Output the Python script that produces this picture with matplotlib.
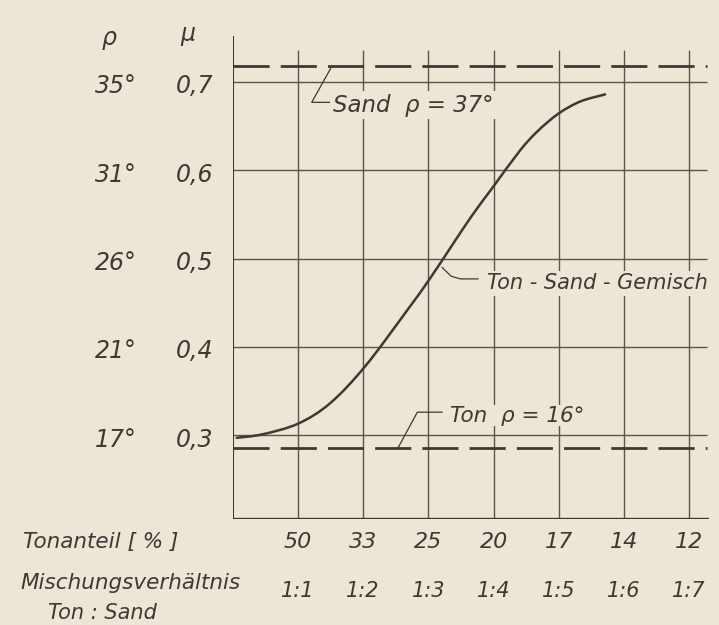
import matplotlib.pyplot as plt
from matplotlib import font_manager
from matplotlib.path import Path
from matplotlib.patches import PathPatch

# Schrift: schmale Kursivschrift, falls vorhanden
names = {f.name for f in font_manager.fontManager.ttflist}
if 'Liberation Sans Narrow' in names:
    fam = ['Liberation Sans Narrow', 'DejaVu Sans']
else:
    fam = ['DejaVu Sans']
plt.rcParams['font.family'] = fam
plt.rcParams['font.style'] = 'italic'

bg = '#ece6d6'
ink = '#3d3934'
grid_ink = '#5a564f'

# Achsen: Reibungswinkel rho und Reibungsbeiwert mu
mu_ticks = [0.7, 0.6, 0.5, 0.4, 0.3]
rho_labels = ['35°', '31°', '26°', '21°', '17°']
mu_labels = ['0,7', '0,6', '0,5', '0,4', '0,3']

# x-Achse: Tonanteil und Mischungsverhaeltnis
x_pos = [1, 2, 3, 4, 5, 6, 7]
ton_anteil = ['50', '33', '25', '20', '17', '14', '12']
mischung = ['1:1', '1:2', '1:3', '1:4', '1:5', '1:6', '1:7']

# Ton-Sand-Gemisch
curve_x = [0.06, 0.46, 1.0, 1.49, 2.03, 2.67, 3.02, 3.38, 3.68,
           3.99, 4.40, 4.67, 4.99, 5.33, 5.71]
curve_mu = [0.297, 0.301, 0.313, 0.336, 0.378, 0.441, 0.477, 0.517,
            0.550, 0.581, 0.622, 0.644, 0.664, 0.678, 0.686]

# Grenzwerte Sand (rho = 37) und Ton (rho = 16)
sand_mu = 0.718
ton_mu = 0.285

x_max = 7.28


def smooth_path(xs, ys):
    # Catmull-Rom als kubische Bezier-Segmente
    pts = list(zip(xs, ys))
    pts = [pts[0]] + pts + [pts[-1]]
    verts = [pts[1]]
    codes = [Path.MOVETO]
    for i in range(1, len(pts) - 2):
        p0, p1, p2, p3 = pts[i - 1], pts[i], pts[i + 1], pts[i + 2]
        c1 = (p1[0] + (p2[0] - p0[0]) / 6, p1[1] + (p2[1] - p0[1]) / 6)
        c2 = (p2[0] - (p3[0] - p1[0]) / 6, p2[1] - (p3[1] - p1[1]) / 6)
        verts += [c1, c2, p2]
        codes += [Path.CURVE4] * 3
    return Path(verts, codes)


fig = plt.figure(figsize=(7.19, 6.25), dpi=100, facecolor=bg)
ax = fig.add_axes([0.3238, 0.1696, 0.662, 0.7768])
ax.set_facecolor(bg)
ax.set_xlim(0, 7.3)
ax.set_ylim(0.205, 0.755)
for s in ax.spines.values():
    s.set_visible(False)
ax.set_xticks([])
ax.set_yticks([])

# Gitter
ax.hlines(mu_ticks, 0, x_max, color=grid_ink, lw=1.0, zorder=1)
ax.vlines(x_pos, 0.205, 0.736, color=grid_ink, lw=1.0, zorder=1)
# Achslinien
ax.vlines([0], 0.205, 0.752, color=ink, lw=1.5, zorder=2)
ax.hlines([0.205], 0, x_max + 0.02, color=ink, lw=1.7, zorder=2)

# gestrichelte Grenzlinien
ax.hlines([sand_mu, ton_mu], 0, x_max, color=ink, lw=2.0,
          linestyles=[(0, (13, 4))], zorder=2)

# Kurve
ax.add_patch(PathPatch(smooth_path(curve_x, curve_mu), facecolor='none',
                       edgecolor=ink, lw=1.8, zorder=4, capstyle='round'))

# Beschriftungen mit Hinweislinien
box = dict(facecolor=bg, edgecolor='none', pad=2)
ax.plot([1.52, 1.21, 1.49], [sand_mu, 0.677, 0.677], color=ink, lw=0.9, zorder=3)
ax.text(1.54, 0.674, 'Sand  ρ = 37°', fontsize=16.5, color=ink, va='center',
        ha='left', bbox=box, zorder=3)
ax.plot([2.53, 2.83, 3.21], [ton_mu, 0.326, 0.326], color=ink, lw=0.9, zorder=3)
ax.text(3.33, 0.322, 'Ton  ρ = 16°', fontsize=15.5, color=ink, va='center',
        ha='left', bbox=dict(facecolor=bg, edgecolor='none', pad=0.5), zorder=3)
ax.plot([3.21, 3.35, 3.49, 3.76], [0.490, 0.480, 0.477, 0.477], color=ink,
        lw=0.9, zorder=3)
ax.text(3.90, 0.472, 'Ton - Sand - Gemisch', fontsize=15, color=ink,
        va='center', ha='left', bbox=box, zorder=3)

# linke Skalen
for y, r, m in zip(mu_ticks, rho_labels, mu_labels):
    ax.text(-1.47, y - 0.005, r, fontsize=17, color=ink, ha='right',
            va='center', clip_on=False)
    ax.text(-0.30, y - 0.005, m, fontsize=17, color=ink, ha='right',
            va='center', clip_on=False)
ax.text(-1.9, 0.750, 'ρ', fontsize=17, color=ink, ha='center', va='center',
        clip_on=False)
ax.text(-0.69, 0.754, 'μ', fontsize=17, color=ink, ha='center', va='center',
        clip_on=False)

# untere Skalen
for x, t, m in zip(x_pos, ton_anteil, mischung):
    ax.text(x, 0.179, t, fontsize=16, color=ink, ha='center', va='center',
            clip_on=False)
    ax.text(x, 0.124, m, fontsize=15, color=ink, ha='center', va='center',
            clip_on=False)
ax.text(-3.22, 0.179, 'Tonanteil [ % ]', fontsize=15.5, color=ink, ha='left',
        va='center', clip_on=False)
ax.text(-3.25, 0.132, 'Mischungsverhältnis', fontsize=15.5, color=ink,
        ha='left', va='center', clip_on=False)
ax.text(-2.0, 0.099, 'Ton : Sand', fontsize=15, color=ink, ha='center',
        va='center', clip_on=False)

fig.savefig('out.png', dpi=100, facecolor=bg)
